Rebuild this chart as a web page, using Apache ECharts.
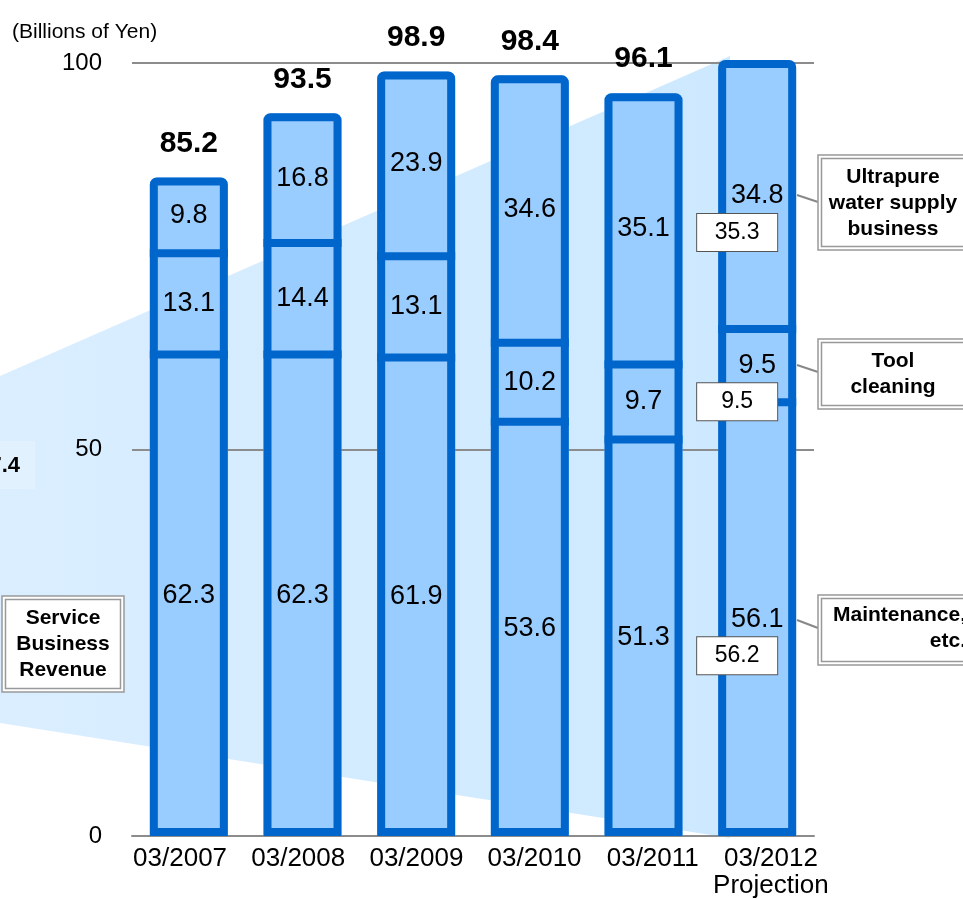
<!DOCTYPE html>
<html>
<head>
<meta charset="utf-8">
<script src="https://cdn.jsdelivr.net/npm/echarts@6/dist/echarts.min.js"></script>
<style>
  html, body { margin: 0; padding: 0; background: #fff; }
  #chart { width: 963px; height: 899px; }
</style>
</head>
<body>
<div id="chart"></div>
<script>
// Service business revenue, billions of yen
const categories = ['03/2007', '03/2008', '03/2009', '03/2010', '03/2011', '03/2012'];
const maintenance = [62.3, 62.3, 61.9, 53.6, 51.3, 56.1];
const toolCleaning = [13.1, 14.4, 13.1, 10.2, 9.7, 9.5];
const ultrapureWater = [9.8, 16.8, 23.9, 34.6, 35.1, 34.8];
const totals = [85.2, 93.5, 98.9, 98.4, 96.1, 100.4];
// plan figures (boxed) only for the projection year
const planMaintenance = [null, null, null, null, null, 56.2];
const planToolCleaning = [null, null, null, null, null, 9.5];
const planUltrapureWater = [null, null, null, null, null, 35.3];
const planTotals = [null, null, null, null, null, 101.0];

const FONT = '"Liberation Sans", Arial, sans-serif';
const BAR_FILL = '#99CCFF';
const BAR_EDGE = '#0066CC';
const BAR_W = 78;
const EDGE = 8;

const chart = echarts.init(document.getElementById('chart'));

// plain fill segments, the frame and dividers come from the custom series
function barSeries(name, data, radius) {
  return {
    name: name,
    type: 'bar',
    stack: 'actual',
    data: data,
    barWidth: BAR_W,
    barGap: '-100%',
    itemStyle: { color: BAR_FILL, borderRadius: radius || 0 },
    label: {
      show: true,
      position: 'inside',
      color: '#000',
      textBorderWidth: 0,
      fontFamily: FONT,
      fontSize: 27,
      formatter: p => p.value.toFixed(1)
    },
    z: 3
  };
}

// invisible stack, only used to place the plan boxes
function planSeries(name, data) {
  return {
    name: name,
    type: 'bar',
    stack: 'plan',
    data: data,
    barWidth: BAR_W,
    barGap: '-100%',
    itemStyle: { color: 'rgba(0,0,0,0)' },
    label: {
      show: true,
      position: 'inside',
      offset: [-20, 37],
      color: '#000',
      textBorderWidth: 0,
      fontFamily: FONT,
      fontSize: 23,
      lineHeight: 29,
      width: 72,
      align: 'center',
      padding: [4, 4],
      backgroundColor: '#fff',
      borderColor: '#555',
      borderWidth: 1,
      formatter: p => p.value.toFixed(1)
    },
    z: 5
  };
}

function frameItem(params, api) {
  const i = api.value(0);
  const m = api.value(1), t = api.value(2), w = api.value(3);
  const p0 = api.coord([i, 0]);
  const p1 = api.coord([i, m]);
  const p2 = api.coord([i, m + t]);
  const p3 = api.coord([i, m + t + w]);
  const cx = p0[0];
  const half = BAR_W / 2;
  const lineStyle = { stroke: BAR_EDGE, lineWidth: EDGE, fill: null };
  return {
    type: 'group',
    children: [
      {
        type: 'rect',
        shape: { x: cx - half + EDGE / 2, y: p3[1] + EDGE / 2, width: BAR_W - EDGE, height: p0[1] - p3[1] - EDGE, r: [3, 3, 0, 0] },
        style: lineStyle
      },
      { type: 'line', shape: { x1: cx - half, y1: p1[1], x2: cx + half, y2: p1[1] }, style: lineStyle },
      { type: 'line', shape: { x1: cx - half, y1: p2[1], x2: cx + half, y2: p2[1] }, style: lineStyle }
    ]
  };
}

function boxText(x, y, lines, align) {
  return {
    type: 'text',
    x: x,
    y: y,
    style: {
      text: lines.join('\n'),
      font: 'bold 21px ' + FONT,
      lineHeight: 26,
      fill: '#000',
      align: align || 'center',
      verticalAlign: 'middle'
    }
  };
}

function doubleBox(x, y, w, h) {
  return [
    { type: 'rect', shape: { x: x, y: y, width: w, height: h },
      style: { fill: '#fff', stroke: '#999', lineWidth: 1.5 } },
    { type: 'rect', shape: { x: x + 3.5, y: y + 3.5, width: w - 7, height: h - 7 },
      style: { fill: 'none', stroke: '#999', lineWidth: 1.5 } }
  ];
}

function connector(x1, y1, x2, y2) {
  return { type: 'line', shape: { x1: x1, y1: y1, x2: x2, y2: y2 },
    style: { stroke: '#888', lineWidth: 2 } };
}

const option = {
  animation: false,
  backgroundColor: '#fff',
  grid: [
    { left: 132, right: 149, top: 63, bottom: 63 },
    // label-only grid, the original tick labels are spread a bit wider than the bars
    { left: 121, right: 133, top: 63, bottom: 63 }
  ],
  xAxis: [
    {
      type: 'category',
      gridIndex: 0,
      data: categories,
      axisTick: { show: false },
      axisLabel: { show: false },
      axisLine: { show: true, lineStyle: { color: '#8c8c8c', width: 2 } }
    },
    {
      type: 'category',
      gridIndex: 1,
      data: categories,
      axisTick: { show: false },
      axisLine: { show: false },
      axisLabel: {
        margin: 17,
        color: '#000',
        fontFamily: FONT,
        fontSize: 26,
        lineHeight: 27,
        interval: 0,
        formatter: (v, i) => i === categories.length - 1 ? v + '\nProjection' : v
      }
    }
  ],
  yAxis: [
    {
      type: 'value',
      gridIndex: 0,
      min: 0,
      max: 100,
      interval: 50,
      axisLine: { show: false },
      axisTick: { show: false },
      axisLabel: { margin: 30, color: '#000', fontFamily: FONT, fontSize: 24 },
      splitLine: { lineStyle: { color: '#8c8c8c', width: 2 } }
    },
    { type: 'value', gridIndex: 1, min: 0, max: 1, show: false }
  ],
  series: [
    barSeries('Maintenance, etc.', maintenance),
    barSeries('Tool cleaning', toolCleaning),
    barSeries('Ultrapure water supply business', ultrapureWater, [7, 7, 0, 0]),
    {
      name: 'Frame',
      type: 'custom',
      renderItem: frameItem,
      data: categories.map((c, i) => [i, maintenance[i], toolCleaning[i], ultrapureWater[i]]),
      encode: { x: 0, y: [1, 2, 3] },
      silent: true,
      z: 4
    },
    planSeries('Plan maintenance', planMaintenance),
    planSeries('Plan tool cleaning', planToolCleaning),
    planSeries('Plan ultrapure water', planUltrapureWater),
    {
      name: 'Total',
      type: 'scatter',
      data: totals.map((v, i) => i === totals.length - 1 ? { value: v, label: { offset: [-4, -38] } } : v),
      symbolSize: 1,
      itemStyle: { color: 'rgba(0,0,0,0)', opacity: 1 },
      label: {
        show: true,
        position: 'inside',
        offset: [0, -34],
        color: '#000',
        textBorderWidth: 0,
        fontFamily: FONT,
        fontWeight: 'bold',
        fontSize: 30,
        formatter: p => p.value.toFixed(1)
      },
      z: 6
    },
    {
      name: 'Plan total',
      type: 'scatter',
      data: planTotals,
      symbolSize: 1,
      itemStyle: { color: 'rgba(0,0,0,0)', opacity: 1 },
      label: {
        show: true,
        position: 'inside',
        offset: [-20, 6],
        color: '#000',
        textBorderWidth: 0,
        fontFamily: FONT,
        fontSize: 23,
        lineHeight: 29,
        width: 72,
        align: 'center',
        padding: [4, 4],
        backgroundColor: '#fff',
        borderColor: '#555',
        borderWidth: 1,
        formatter: p => p.value.toFixed(1)
      },
      z: 7
    }
  ],
  graphic: [
    // light spotlight shape behind the bars
    {
      type: 'polygon',
      z: -10,
      shape: { points: [[0, 376], [730, 56], [730, 838], [0, 723]] },
      style: {
        fill: new echarts.graphic.LinearGradient(0, 0, 1, 0, [
          { offset: 0, color: '#DAEEFF' },
          { offset: 1, color: '#CDE9FF' }
        ])
      }
    },
    { type: 'rect', z: -9, shape: { x: 0, y: 441, width: 35, height: 48 }, style: { fill: '#E1F1FE' } },
    {
      type: 'text', x: 20, y: 466,
      style: { text: '7.4', font: 'bold 22px ' + FONT, fill: '#000', align: 'right', verticalAlign: 'middle' }
    },
    {
      type: 'text', x: 12, y: 32,
      style: { text: '(Billions of Yen)', font: '21px ' + FONT, fill: '#000', align: 'left', verticalAlign: 'middle' }
    },
    ...doubleBox(2, 596, 122, 96),
    boxText(63, 644, ['Service', 'Business', 'Revenue']),
    connector(797, 195, 818, 202),
    ...doubleBox(818, 155, 152, 95),
    boxText(893, 203, ['Ultrapure', 'water supply', 'business']),
    connector(797, 365, 818, 372),
    ...doubleBox(818, 339, 152, 70),
    boxText(893, 374, ['Tool', 'cleaning']),
    connector(797, 620, 818, 628),
    ...doubleBox(818, 595, 160, 70),
    boxText(966, 628, ['Maintenance,', 'etc.'], 'right')
  ]
};

chart.setOption(option);
</script>
</body>
</html>
